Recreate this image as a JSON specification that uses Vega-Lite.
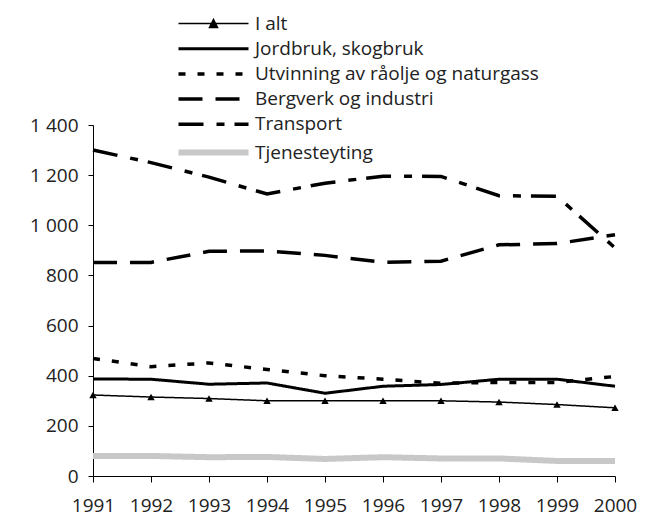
{
  "$schema": "https://vega.github.io/schema/vega-lite/v6.json",
  "autosize": "none",
  "width": 522,
  "height": 351,
  "padding": {"left": 93, "top": 125, "right": 31, "bottom": 41},
  "background": "white",
  "config": {
    "view": {"stroke": null},
    "font": "Open Sans",
    "axis": {"grid": false, "domainColor": "#000", "tickColor": "#000", "labelColor": "#222", "labelFont": "Open Sans", "labelFontSize": 19, "title": null}
  },
  "data": {
    "values": [
      {"aar": 1991, "serie": "I alt", "verdi": 323},
      {"aar": 1992, "serie": "I alt", "verdi": 315},
      {"aar": 1993, "serie": "I alt", "verdi": 309},
      {"aar": 1994, "serie": "I alt", "verdi": 300},
      {"aar": 1995, "serie": "I alt", "verdi": 300},
      {"aar": 1996, "serie": "I alt", "verdi": 300},
      {"aar": 1997, "serie": "I alt", "verdi": 300},
      {"aar": 1998, "serie": "I alt", "verdi": 295},
      {"aar": 1999, "serie": "I alt", "verdi": 285},
      {"aar": 2000, "serie": "I alt", "verdi": 272},
      {"aar": 1991, "serie": "Jordbruk, skogbruk", "verdi": 387},
      {"aar": 1992, "serie": "Jordbruk, skogbruk", "verdi": 386},
      {"aar": 1993, "serie": "Jordbruk, skogbruk", "verdi": 366},
      {"aar": 1994, "serie": "Jordbruk, skogbruk", "verdi": 371},
      {"aar": 1995, "serie": "Jordbruk, skogbruk", "verdi": 330},
      {"aar": 1996, "serie": "Jordbruk, skogbruk", "verdi": 358},
      {"aar": 1997, "serie": "Jordbruk, skogbruk", "verdi": 365},
      {"aar": 1998, "serie": "Jordbruk, skogbruk", "verdi": 386},
      {"aar": 1999, "serie": "Jordbruk, skogbruk", "verdi": 386},
      {"aar": 2000, "serie": "Jordbruk, skogbruk", "verdi": 358},
      {"aar": 1991, "serie": "Utvinning av råolje og naturgass", "verdi": 469},
      {"aar": 1992, "serie": "Utvinning av råolje og naturgass", "verdi": 436},
      {"aar": 1993, "serie": "Utvinning av råolje og naturgass", "verdi": 451},
      {"aar": 1994, "serie": "Utvinning av råolje og naturgass", "verdi": 425},
      {"aar": 1995, "serie": "Utvinning av råolje og naturgass", "verdi": 400},
      {"aar": 1996, "serie": "Utvinning av råolje og naturgass", "verdi": 386},
      {"aar": 1997, "serie": "Utvinning av råolje og naturgass", "verdi": 370},
      {"aar": 1998, "serie": "Utvinning av råolje og naturgass", "verdi": 373},
      {"aar": 1999, "serie": "Utvinning av råolje og naturgass", "verdi": 373},
      {"aar": 2000, "serie": "Utvinning av råolje og naturgass", "verdi": 397},
      {"aar": 1991, "serie": "Bergverk og industri", "verdi": 852},
      {"aar": 1992, "serie": "Bergverk og industri", "verdi": 852},
      {"aar": 1993, "serie": "Bergverk og industri", "verdi": 896},
      {"aar": 1994, "serie": "Bergverk og industri", "verdi": 898},
      {"aar": 1995, "serie": "Bergverk og industri", "verdi": 880},
      {"aar": 1996, "serie": "Bergverk og industri", "verdi": 852},
      {"aar": 1997, "serie": "Bergverk og industri", "verdi": 857},
      {"aar": 1998, "serie": "Bergverk og industri", "verdi": 922},
      {"aar": 1999, "serie": "Bergverk og industri", "verdi": 927},
      {"aar": 2000, "serie": "Bergverk og industri", "verdi": 962},
      {"aar": 1991, "serie": "Transport", "verdi": 1300},
      {"aar": 1992, "serie": "Transport", "verdi": 1250},
      {"aar": 1993, "serie": "Transport", "verdi": 1192},
      {"aar": 1994, "serie": "Transport", "verdi": 1125},
      {"aar": 1995, "serie": "Transport", "verdi": 1168},
      {"aar": 1996, "serie": "Transport", "verdi": 1196},
      {"aar": 1997, "serie": "Transport", "verdi": 1195},
      {"aar": 1998, "serie": "Transport", "verdi": 1118},
      {"aar": 1999, "serie": "Transport", "verdi": 1116},
      {"aar": 2000, "serie": "Transport", "verdi": 910},
      {"aar": 1991, "serie": "Tjenesteyting", "verdi": 80},
      {"aar": 1992, "serie": "Tjenesteyting", "verdi": 80},
      {"aar": 1993, "serie": "Tjenesteyting", "verdi": 75},
      {"aar": 1994, "serie": "Tjenesteyting", "verdi": 76},
      {"aar": 1995, "serie": "Tjenesteyting", "verdi": 68},
      {"aar": 1996, "serie": "Tjenesteyting", "verdi": 75},
      {"aar": 1997, "serie": "Tjenesteyting", "verdi": 70},
      {"aar": 1998, "serie": "Tjenesteyting", "verdi": 70},
      {"aar": 1999, "serie": "Tjenesteyting", "verdi": 60},
      {"aar": 2000, "serie": "Tjenesteyting", "verdi": 60}
    ]
  },
  "encoding": {
    "x": {
      "field": "aar", "type": "quantitative",
      "scale": {"domain": [1991, 2000], "nice": false, "zero": false},
      "axis": {"values": [1991, 1992, 1993, 1994, 1995, 1996, 1997, 1998, 1999, 2000], "format": "d", "tickSize": 6, "labelPadding": 14, "labelFlush": false, "labelOverlap": false}
    },
    "y": {
      "field": "verdi", "type": "quantitative",
      "scale": {"domain": [0, 1400], "nice": false},
      "axis": {"values": [0, 200, 400, 600, 800, 1000, 1200, 1400], "tickSize": 5, "labelPadding": 10, "labelExpr": "replace(format(datum.value, ','), ',', ' ')"}
    }
  },
  "layer": [
    {
      "mark": {"type": "line", "strokeCap": "butt"},
      "encoding": {
        "color": {
          "field": "serie", "type": "nominal",
          "scale": {"domain": ["I alt", "Jordbruk, skogbruk", "Utvinning av råolje og naturgass", "Bergverk og industri", "Transport", "Tjenesteyting"], "range": ["#000000", "#000000", "#000000", "#000000", "#000000", "#c8c8c8"]},
          "legend": {
            "orient": "none", "legendX": 85, "legendY": -111, "title": null, "padding": 0,
            "symbolSize": 100, "symbolOffset": 26, "labelOffset": 32, "rowPadding": 5.2,
            "labelFont": "Open Sans", "labelFontSize": 19, "labelColor": "#222", "labelLimit": 400,
            "encode": {"symbols": {"update": {
              "shape": {"signal": "datum.value === 'I alt' ? 'M-7,0L7,0M-0.8,0.8L0,-0.8L0.8,0.8Z' : 'M-7,0L7,0'"},
              "fill": {"signal": "datum.value === 'I alt' ? '#000' : 'transparent'"}
            }}}
          }
        },
        "strokeDash": {
          "field": "serie", "type": "nominal",
          "scale": {"domain": ["I alt", "Jordbruk, skogbruk", "Utvinning av råolje og naturgass", "Bergverk og industri", "Transport", "Tjenesteyting"], "range": [[1, 0], [1, 0], [7, 12], [24, 13], [25, 13, 8, 10], [1, 0]]}
        },
        "strokeWidth": {
          "field": "serie", "type": "nominal",
          "scale": {"type": "ordinal", "domain": ["I alt", "Jordbruk, skogbruk", "Utvinning av råolje og naturgass", "Bergverk og industri", "Transport", "Tjenesteyting"], "range": [1.5, 3, 3.5, 3.5, 3.5, 6]}
        }
      }
    },
    {
      "transform": [{"filter": "datum.serie === 'I alt'"}],
      "mark": {"type": "point", "shape": "triangle-up", "filled": true, "color": "#000", "opacity": 1, "size": 55}
    }
  ]
}
